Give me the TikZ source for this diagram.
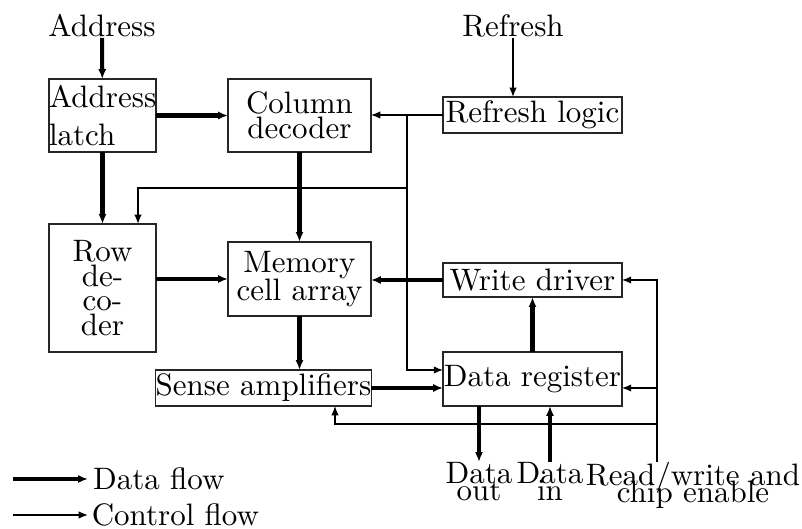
\documentclass[tikz,border=0pt]{standalone}
\usetikzlibrary{arrows.meta,calc}

\tikzset{
    unit/.style={draw=black!85, line width=0.4pt, inner sep=0pt, outer sep=0pt},
    datapath/.style={line width=1.3pt, -{Latex[length=3.2pt,width=2.6pt]}},
    ctrlpath/.style={line width=0.45pt, -{Latex[length=3pt,width=2.4pt]}},
    pinlabel/.style={inner sep=0pt, align=center},
}

\begin{document}
\begin{tikzpicture}[x={(0.01134cm,0cm)}, y={(0cm,-0.01134cm)}]
    \useasboundingbox (0,0) rectangle (802,529);

    % inputs on top
    \node[pinlabel] (addr) at (102,26) {Address};
    \node[pinlabel] (refresh) at (513,26) {Refresh};

    % blocks
    \node[unit, minimum width=34.5pt, minimum height=23.5pt, text width=34.5pt, align=left] (latch) at (102.5,115.5) {Address\\latch};
    \node[unit, minimum width=46.1pt, minimum height=23.5pt, align=center] (col) at (299.5,115.5) {Column\\[-4pt]decoder};
    \node[unit, minimum width=57.7pt, minimum height=11.6pt] (rlogic) at (532.5,115) {Refresh logic};
    \node[unit, minimum width=34.5pt, minimum height=41.3pt, align=center] (row) at (102.5,288) {Row\\[-4pt]de-\\[-4pt]co-\\[-4pt]der};
    \node[unit, minimum width=46.1pt, minimum height=23.9pt, align=center] (mem) at (299.5,279) {Memory\\[-3pt]cell array};
    \node[unit, minimum width=57.7pt, minimum height=11pt] (wdrv) at (532.5,280) {Write driver};
    \node[unit, minimum width=69.4pt, minimum height=11.6pt] (sense) at (263.5,388) {Sense amplifiers};
    \node[unit, minimum width=57.7pt, minimum height=17.4pt] (dreg) at (532.5,379) {Data register};

    % pins at the bottom
    \node[pinlabel, anchor=north] (dout) at (479,462) {Data\\[-6.5pt]out};
    \node[pinlabel, anchor=north] (din) at (550,462) {Data\\[-6.5pt]in};
    \node[pinlabel, anchor=north] (rw) at (693,462) {Read/write and\\[-6.5pt]chip enable};
    \coordinate (rwpin) at (657,462);

    % data flow
    \draw[datapath] (addr) -- (latch);
    \draw[datapath] (latch) -- (col);
    \draw[datapath] (latch) -- (row);
    \draw[datapath] (col) -- (mem);
    \draw[datapath] (row.east |- mem.west) -- (mem.west);
    \draw[datapath] (wdrv.west) -- (wdrv.west -| mem.east);
    \draw[datapath] (mem) -- (sense.north -| mem.south);
    \draw[datapath] (sense.east) -- (sense.east -| dreg.west);
    \draw[datapath] (dreg) -- (wdrv);
    \draw[datapath] (dreg.south -| dout) -- (dout);
    \draw[datapath] (din) -- (din |- dreg.south);

    % control flow
    \draw[ctrlpath] (refresh) -- (refresh |- rlogic.north);
    \draw[ctrlpath] (rlogic.west) -- (rlogic.west -| col.east);
    \coordinate (tap) at (407,115);
    \coordinate (tapb) at (407,188);
    \draw[ctrlpath] (tap) |- ($(dreg.west)+(0,-9)$);
    \draw[ctrlpath] (tapb) -| ($(row.north)+(35.5,0)$);
    \draw[ctrlpath] (rwpin) |- (wdrv.east);
    \draw[ctrlpath] (rwpin |- sense.east) -- (sense.east -| dreg.east);
    \draw[ctrlpath] (657,424) -| ($(sense.south)+(71.5,0)$);

    % legend
    \draw[datapath] (13,479) -- (88,479) node[right, inner sep=1pt] (ldata) {Data flow};
    \draw[ctrlpath] (13,515) -- (88,515) node[right, inner sep=1pt] (lctrl) {Control flow};
\end{tikzpicture}
\end{document}
